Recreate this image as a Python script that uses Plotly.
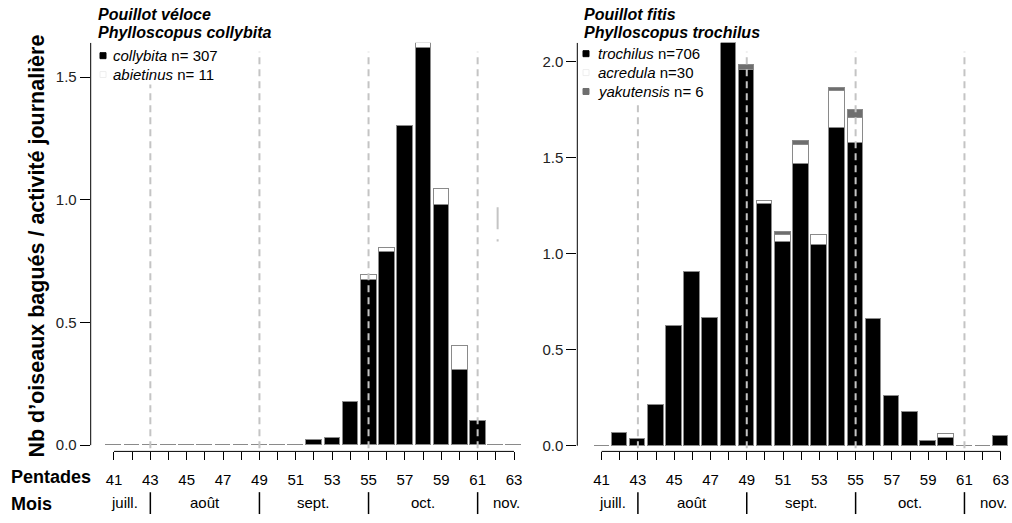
import plotly.graph_objects as go

# ---------------- data ----------------
pentades = list(range(41, 64))
pentade_labels = [str(p) if p % 2 == 1 else "" for p in pentades]

# Pouillot véloce
collybita = [0, 0, 0, 0, 0, 0, 0, 0, 0, 0, 0,
             0.021, 0.030, 0.178, 0.675, 0.788, 1.300, 1.619, 0.980, 0.306, 0.098, 0, 0]
abietinus = [0, 0, 0, 0, 0, 0, 0, 0, 0, 0, 0, 0, 0, 0,
             0.018, 0.017, 0, 0.019, 0.066, 0.098, 0, 0, 0]

# Pouillot fitis
trochilus = [0, 0.068, 0.037, 0.215, 0.626, 0.905, 0.665, 2.095, 1.956, 1.258, 1.060,
             1.465, 1.046, 1.655, 1.577, 0.660, 0.258, 0.177, 0.025, 0.044, 0, 0, 0.053]
acredula = [0, 0, 0, 0, 0, 0, 0, 0, 0, 0.017, 0.039,
            0.102, 0.051, 0.190, 0.128, 0, 0, 0, 0, 0.020, 0, 0, 0]
yakutensis = [0, 0, 0, 0, 0, 0, 0, 0, 0.026, 0, 0.015,
              0.022, 0, 0.017, 0.041, 0, 0, 0, 0, 0, 0, 0, 0]

month_bounds = [43, 49, 55, 61]
month_names = ["juill.", "août", "sept.", "oct.", "nov."]
month_edges = (40.2, 64.2)

left_ticks = [0, 0.5, 1.0, 1.5]
right_ticks = [0, 0.5, 1.0, 1.5, 2.0]

left_title = ["Pouillot véloce", "Phylloscopus collybita"]
right_title = ["Pouillot fitis", "Phylloscopus trochilus"]
left_legend = ["<i>collybita</i> n= 307", "<i>abietinus</i> n= 11"]
right_legend = ["<i>trochilus</i> n=706", "<i>acredula</i> n=30", "<i>yakutensis</i> n= 6"]

# ---------------- layout helpers ----------------
W, H = 1012, 523
FONT = "Liberation Sans, Arial, Helvetica, sans-serif"


def px(x):
    return x / W


def py(y):
    return 1 - y / H


BLACK = "#000000"
WHITE = "#ffffff"
GREY = "#6e6e6e"
OUTLINE = "#8a8a8a"
DASH = "#c4c4c4"
BAR_W = 0.86

fig = go.Figure()


def add_bars(vals, color, xa, ya):
    fig.add_trace(go.Bar(
        x=pentades, y=vals, xaxis=xa, yaxis=ya, width=BAR_W,
        marker=dict(color=color, line=dict(color=OUTLINE, width=1)),
        showlegend=False, hoverinfo="x+y"))


add_bars(collybita, BLACK, "x", "y")
add_bars(abietinus, WHITE, "x", "y")
add_bars(trochilus, BLACK, "x2", "y2")
add_bars(acredula, WHITE, "x2", "y2")
add_bars(yakutensis, GREY, "x2", "y2")

ydom = [py(454), py(43)]
yr1 = [-0.0255, 1.64]
yr2 = [-0.0295, 2.097]

xaxis_common = dict(
    tickmode="array", tickvals=pentades, ticktext=pentade_labels,
    ticks="outside", ticklen=8, tickwidth=1, tickcolor="black",
    showgrid=False, zeroline=False, showline=False,
    tickfont=dict(family=FONT, size=15, color="black"),
    ticklabelstandoff=7, fixedrange=True,
)
yaxis_common = dict(
    ticks="outside", ticklen=10, tickwidth=1, tickcolor="black",
    showgrid=False, zeroline=False, showline=False, tickformat=".1f",
    tickfont=dict(family=FONT, size=15, color="#222"), domain=ydom, fixedrange=True,
)

fig.update_layout(
    width=W, height=H, margin=dict(l=0, r=0, t=0, b=0),
    paper_bgcolor="white", plot_bgcolor="white",
    barmode="stack", bargap=0, showlegend=False,
    font=dict(family=FONT, color="black"),
    xaxis=dict(domain=[px(90.7), px(530)], range=[39.72, 63.88], anchor="y", **xaxis_common),
    xaxis2=dict(domain=[px(577.3), px(1010)], range=[39.66, 63.51], anchor="y2", **xaxis_common),
    yaxis=dict(range=yr1, tickvals=left_ticks, anchor="x", **yaxis_common),
    yaxis2=dict(range=yr2, tickvals=right_ticks, anchor="x2", **yaxis_common),
)

shapes = []
annots = []

for xa, ya, yr in (("x", "y", yr1), ("x2", "y2", yr2)):
    # axis lines (R style)
    shapes.append(dict(type="line", xref=xa, yref=f"{ya} domain", x0=pentades[0], x1=pentades[-1],
                       y0=0, y1=0, line=dict(color="black", width=1)))
    shapes.append(dict(type="line", xref=f"{xa} domain", yref=ya, x0=0, x1=0,
                       y0=0, y1=yr[1], line=dict(color="black", width=1)))
    # month boundaries: dashed guide lines + separators under the axis
    for b in month_bounds:
        shapes.append(dict(type="line", xref=xa, yref=f"{ya} domain", x0=b, x1=b,
                           y0=0.008, y1=0.978, layer="above",
                           line=dict(color=DASH, width=2, dash="7px,5px")))
        shapes.append(dict(type="line", xref=xa, yref="paper", x0=b, x1=b,
                           y0=py(495), y1=py(517), line=dict(color="black", width=1.5)))
    # month labels
    centres = [(month_edges[0] + month_bounds[0]) / 2]
    centres += [(month_bounds[i] + month_bounds[i + 1]) / 2 for i in range(len(month_bounds) - 1)]
    centres += [(month_bounds[-1] + month_edges[1]) / 2]
    for name, c in zip(month_names, centres):
        annots.append(dict(text=name, x=c, xref=xa, y=py(505), yref="paper", showarrow=False,
                           xanchor="center", yanchor="middle",
                           font=dict(family=FONT, size=15, color="black")))

# small stray dashed fragment seen in the left panel
shapes.append(dict(type="line", xref="x", yref="y", x0=62.1, x1=62.1, y0=0.97, y1=0.83,
                   line=dict(color=DASH, width=2, dash="22px,10px")))

# row labels
annots.append(dict(text="<b>Pentades</b>", x=px(9), y=py(480), xref="paper", yref="paper",
                   xanchor="left", yanchor="middle", showarrow=False,
                   font=dict(family=FONT, size=18, color="black")))
annots.append(dict(text="<b>Mois</b>", x=px(9), y=py(507), xref="paper", yref="paper",
                   xanchor="left", yanchor="middle", showarrow=False,
                   font=dict(family=FONT, size=18, color="black")))

# y-axis title
annots.append(dict(text="<b>Nb d’oiseaux bagués / activité journalière</b>", textangle=-90,
                   x=px(37), y=py(248), xref="paper", yref="paper", showarrow=False,
                   xanchor="center", yanchor="middle",
                   font=dict(family=FONT, size=21.5, color="black")))

# panel titles
for lines, x0 in ((left_title, 96), (right_title, 582)):
    for line, yy in zip(lines, (15, 33)):
        annots.append(dict(text=f"<b><i>{line}</i></b>", x=px(x0), y=py(yy), xref="paper",
                           yref="paper", xanchor="left", yanchor="middle", showarrow=False,
                           font=dict(family=FONT, size=16, color="black")))

# manual legends
def legend(items, colors, xsym, xtext, ys):
    for txt, col, yy in zip(items, colors, ys):
        edge = "#eeeeee" if col == WHITE else col
        shapes.append(dict(type="rect", xref="paper", yref="paper",
                           x0=px(xsym), x1=px(xsym + 6), y0=py(yy - 3), y1=py(yy + 3),
                           fillcolor=col, line=dict(color=edge, width=1)))
        annots.append(dict(text=txt, x=px(xtext), y=py(yy), xref="paper", yref="paper",
                           xanchor="left", yanchor="middle", showarrow=False, bgcolor="white",
                           font=dict(family=FONT, size=15, color="black")))


legend(left_legend, [BLACK, WHITE], 100, 111, [56, 75])
legend(right_legend, [BLACK, WHITE, GREY], 583, 596, [54, 73, 92])

fig.update_layout(shapes=shapes, annotations=annots)
fig.write_html("out.html", config={"displayModeBar": False},
               post_script="document.body.style.margin='0';document.body.style.overflow='hidden';")
